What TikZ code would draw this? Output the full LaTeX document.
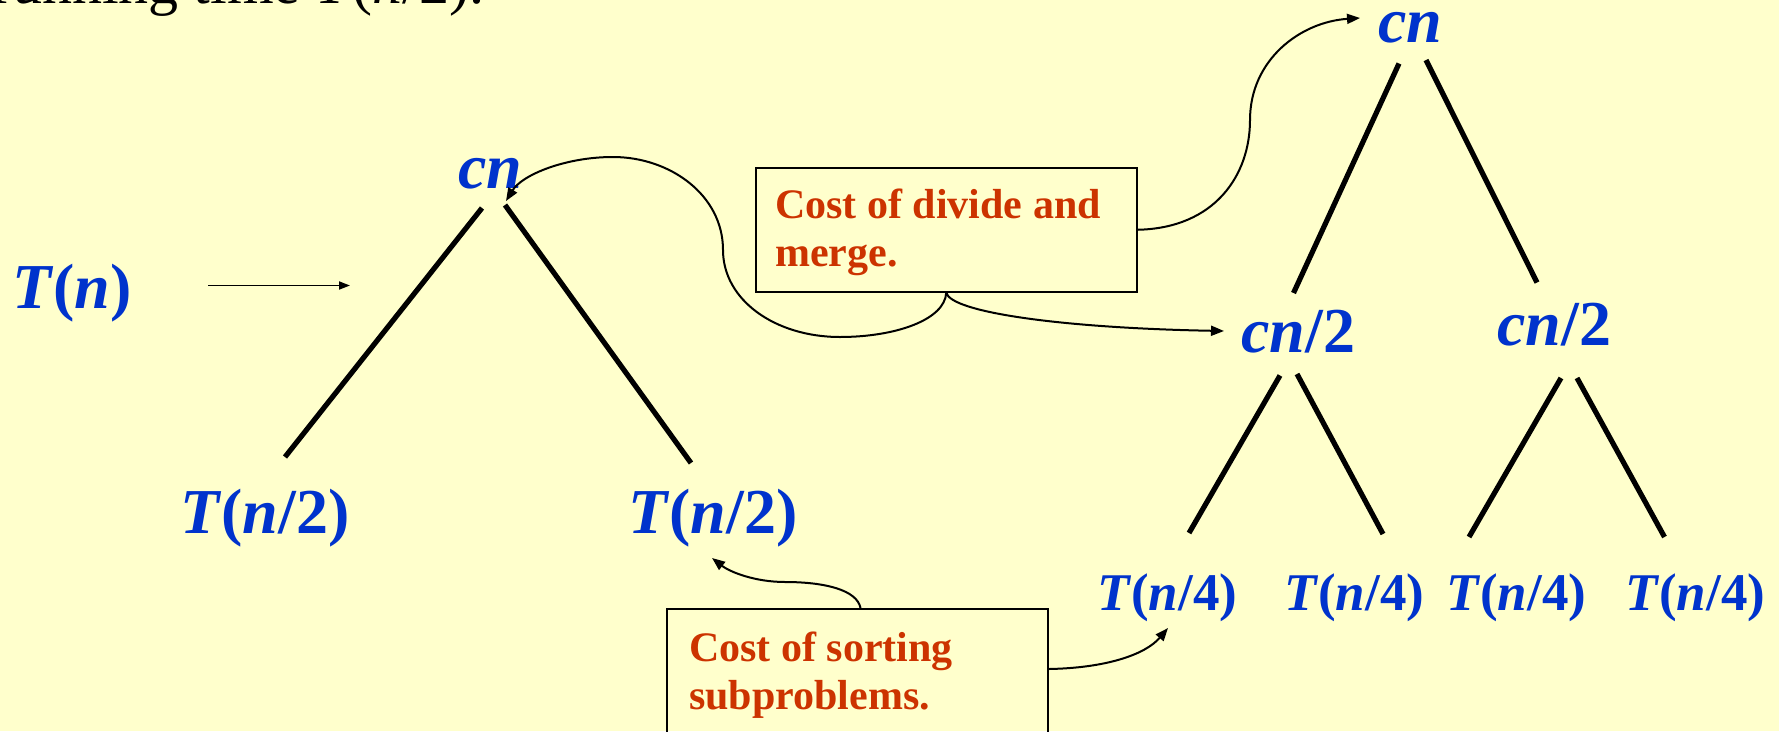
\documentclass[tikz,border=0pt]{standalone}
\usepackage{fontspec}
\setmainfont{Liberation Serif}
\usetikzlibrary{arrows.meta,calc}
\definecolor{bg}{RGB}{255,255,204}
\definecolor{lblue}{RGB}{0,51,204}
\definecolor{cred}{RGB}{204,51,0}
\begin{document}
\begin{tikzpicture}[x=1pt,y=-1pt,
  lab/.style={text=lblue, font=\fontsize{64}{70}\selectfont\bfseries, inner sep=0pt, anchor=base west},
  small/.style={text=lblue, font=\fontsize{53}{58}\selectfont\bfseries, inner sep=0pt, anchor=base west},
  edge/.style={line width=5.2pt},
  costbox/.style={draw, line width=2pt, inner sep=0pt, anchor=north west},
  costtext/.style={text=cred, font=\fontsize{42}{49}\selectfont\bfseries, inner sep=0pt, anchor=base west},
  conn/.style={line width=2pt, -{Triangle[length=13pt,width=10pt]}},
  thinarrow/.style={line width=1.8pt, -{Triangle[length=11pt,width=8pt]}}]
\fill[bg] (0,0) rectangle (1779,731);
\useasboundingbox (0,0) rectangle (1779,731);
\clip (0,0) rectangle (1779,731);

% heading fragment
\node[inner sep=0pt, anchor=base west, font=\fontsize{60}{66}\selectfont] (head) at (-8,3) {running time \textit{T}(\textit{n}/2).};

% labels
\node[lab] (Tn) at (12,308) {\textit{T}(\textit{n})};
\node[lab] (cnL) at (458,188) {\textit{cn}};
\node[lab] (tl2a) at (180,533) {\textit{T}(\textit{n}/2)};
\node[lab] (tl2b) at (628,533) {\textit{T}(\textit{n}/2)};
\node[lab] (cnT) at (1378,42) {\textit{cn}};
\node[lab] (cn2a) at (1241,352) {\textit{cn}/2};
\node[lab] (cn2b) at (1497,345) {\textit{cn}/2};
\node[small] (t4a) at (1097,610) {\textit{T}(\textit{n}/4)};
\node[small] (t4b) at (1284,610) {\textit{T}(\textit{n}/4)};
\node[small] (t4c) at (1446,610) {\textit{T}(\textit{n}/4)};
\node[small] (t4d) at (1625,610) {\textit{T}(\textit{n}/4)};

% arrow T(n) -> tree
\coordinate (arrS) at (208,285.5);
\coordinate (arrE) at (350,285.5);
\draw[thinarrow] (arrS) -- (arrE);

% tree edges
\coordinate (l1a) at (482,208);   \coordinate (l1b) at (285,457);
\coordinate (l2a) at (505,205);   \coordinate (l2b) at (691,463);
\coordinate (r1a) at (1399,63.5); \coordinate (r1b) at (1293.5,293);
\coordinate (r2a) at (1426,60);   \coordinate (r2b) at (1537,282.5);
\coordinate (r3a) at (1280,375.5);\coordinate (r3b) at (1189,533);
\coordinate (r4a) at (1297,374);  \coordinate (r4b) at (1383,534);
\coordinate (r5a) at (1561,378);  \coordinate (r5b) at (1469,537);
\coordinate (r6a) at (1577,378);  \coordinate (r6b) at (1664.5,537);
\foreach \e in {l1,l2,r1,r2,r3,r4,r5,r6} \draw[edge] (\e a) -- (\e b);

% boxes
\node[costbox, minimum width=381.5pt, minimum height=123.5pt] (b1) at (754.5,167) {};
\node[costtext] (b1t1) at (775,218) {Cost of divide and};
\node[costtext] (b1t2) at (775,266) {merge.};
\node[costbox, minimum width=381pt, minimum height=160pt] (b2) at (666,608) {};
\node[costtext] (b2t1) at (689,661) {Cost of sorting};
\node[costtext] (b2t2) at (689,709) {subproblems.};

% curved connectors
\coordinate (tipcn) at (506,201);
\coordinate (tipcn2) at (1224,331);
\coordinate (tipcnT) at (1360,18);
\coordinate (tipT2) at (712,558);
\coordinate (tipT4) at (1168,628);
\draw[conn] (b1.south) .. controls (945,320) and (895,337) .. (840,337)
  .. controls (775,337) and (723,300) .. (723,250)
  .. controls (723,195) and (670,157) .. (613,157)
  .. controls (565,157) and (522,175) .. (tipcn);
\draw[conn] (b1.south) .. controls (950,312) and (1060,328) .. (tipcn2);
\draw[conn] (b1.east) .. controls (1215,228) and (1250,175) .. (1250,120)
  .. controls (1250,60) and (1300,22) .. (tipcnT);
\draw[conn] ($(b2.north)+(3,0)$) .. controls (857,590) and (825,582) .. (785,582)
  .. controls (755,582) and (730,572) .. (tipT2);
\draw[conn] ($(b2.north east)+(0,61)$) .. controls (1105,668) and (1145,655) .. (tipT4);
\end{tikzpicture}
\end{document}
